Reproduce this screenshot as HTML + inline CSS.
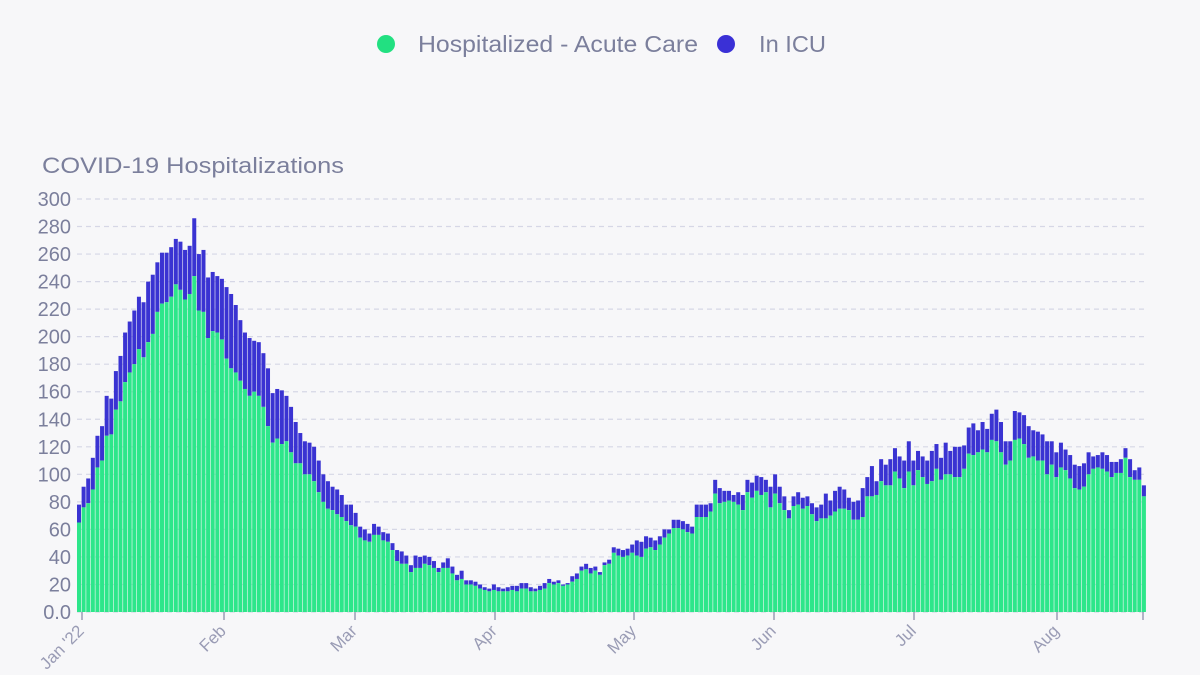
<!DOCTYPE html>
<html><head><meta charset="utf-8"><style>
html,body{margin:0;padding:0;background:#f7f7f9;}
svg{display:block;font-family:"Liberation Sans",sans-serif;}
</style></head><body>
<svg id="s" width="1200" height="675" viewBox="0 0 1200 675">
<rect width="1200" height="675" fill="#f7f7f9"/>
<circle cx="386" cy="44" r="9" fill="#22e081"/>
<text x="418" y="52" font-size="23" fill="#7b7f9c" textLength="280" lengthAdjust="spacingAndGlyphs">Hospitalized - Acute Care</text>
<circle cx="726" cy="44" r="9" fill="#3a30d6"/>
<text x="759" y="52" font-size="23" fill="#7b7f9c" textLength="67" lengthAdjust="spacingAndGlyphs">In ICU</text>
<text x="42" y="173" font-size="22" fill="#7b7f9c" textLength="302" lengthAdjust="spacingAndGlyphs">COVID-19 Hospitalizations</text>
<g id="grid"></g>
<g id="bars"></g>
<g id="ax"></g>
</svg>
<script>
var T=[78,91,97,112,128,135,157,155,175,186,203,211,219,229,225,240,245,254,261,261,265,271,269,263,266,286,260,263,243,247,244,242,236,231,223,212,203,199,197,196,188,177,159,162,161,157,149,138,130,124,123,120,110,100,95,91,89,85,78,78,72,62,60,57,64,62,58,57,50,45,
44,41,34,41,40,41,40,37,32,36,39,33,27,30,23,23,22,20,18,17,20,18,17,18,19,19,21,21,18,17,19,21,24,22,23,20,21,26,28,33,35,32,33,29,36,38,47,46,45,46,49,52,51,55,54,52,55,60,60,67,67,66,64,62,78,78,78,79,96,90,88,88,85,87,85,96,94,99,98,96,91,100,91,84,74,84,87,83,84,79,76,78,86,81,88,91,89,83,
80,81,90,98,106,95,111,107,111,119,113,110,124,110,117,113,110,117,122,112,123,117,120,120,121,134,137,132,138,133,144,147,138,124,124,146,145,143,135,132,131,129,124,124,116,123,118,114,107,106,108,116,113,114,116,114,109,109,111,119,111,103,105,92];
var A=[65,76,79,89,105,110,128,129,147,153,167,174,180,191,185,196,202,218,224,225,229,238,234,227,231,244,219,218,199,204,203,198,184,177,174,168,162,157,160,157,149,135,123,126,122,124,116,108,108,100,100,95,87,80,75,74,71,69,66,63,62,54,52,51,56,56,52,51,45,37,
35,35,29,32,32,35,34,32,29,32,32,28,23,24,20,20,19,17,16,15,16,15,15,15,16,15,17,17,15,15,16,17,21,20,21,19,20,22,24,30,31,28,30,27,34,35,43,41,40,41,43,41,40,46,47,45,49,54,57,61,61,60,58,57,69,69,69,73,86,79,80,81,80,78,74,87,83,88,85,87,76,86,79,74,68,77,78,75,77,71,66,68,68,70,73,75,75,74,
67,67,69,84,84,85,95,92,92,102,97,90,102,92,103,98,93,95,104,96,100,100,98,98,104,115,114,116,118,116,125,124,116,107,110,125,126,122,112,113,110,110,100,107,98,105,103,97,90,89,91,100,104,105,104,102,98,101,101,112,98,96,96,84];
var NS="http://www.w3.org/2000/svg";
function el(t,a,p,txt){var e=document.createElementNS(NS,t);for(var k in a)e.setAttribute(k,a[k]);if(txt)e.textContent=txt;document.getElementById(p).appendChild(e);return e;}
var y0=612,k=1.3767;
for(var v=0;v<=300;v+=20){var y=y0-v*k;
 el('line',{x1:77,x2:1146,y1:y,y2:y,stroke:'#d6d7e6','stroke-width':1.2,'stroke-dasharray':'5,4'},'grid');
 el('text',{x:71,y:y+7,'font-size':20,'text-anchor':'end',fill:'#7b7f9c'},'ax',v==0?'0.0':String(v));}
var w=4.61;
for(var i=0;i<T.length;i++){var x=77+i*w;
 var ha=A[i]*k,ht=T[i]*k;
 el('rect',{x:x,y:y0-ht,width:w-0.6,height:ht-ha,fill:'#3a33d2'},'bars');
 el('rect',{x:x,y:y0-ha,width:w-0.6,height:ha,fill:'#2de68a'},'bars');}
var ticks=[[82,"Jan '22"],[224,"Feb"],[355,"Mar"],[495,"Apr"],[634,"May"],[774,"Jun"],[914,"Jul"],[1057,"Aug"],[1143,""]];
ticks.forEach(function(t){el('line',{x1:t[0],x2:t[0],y1:612,y2:620,stroke:'#9a9cb5','stroke-width':1.5},'ax');
 if(t[1])el('text',{x:t[0]+3,y:632,'font-size':17,'text-anchor':'end',fill:'#9a9cb5',transform:'rotate(-45 '+(t[0]+3)+' 632)'},'ax',t[1]);});
</script>
</body></html>
